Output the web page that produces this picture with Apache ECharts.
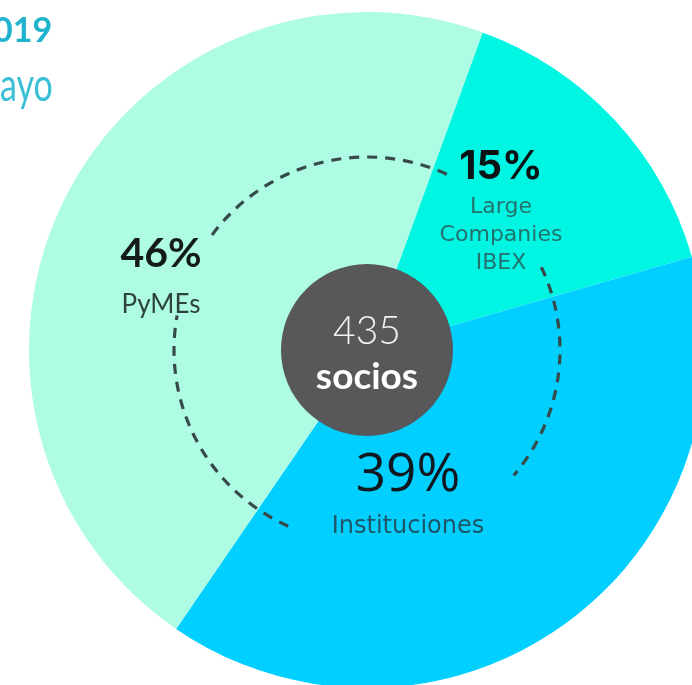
<!DOCTYPE html>
<html><head><meta charset="utf-8">
<script src="https://cdn.jsdelivr.net/npm/echarts@6/dist/echarts.min.js"></script>
<style>html,body{margin:0;padding:0;background:#fff;overflow:hidden}#c{width:692px;height:685px}</style>
</head><body><div id="c"></div>
<script>
// ---- data ----
const categories = ['Large\nCompanies\nIBEX', 'Instituciones', 'PyMEs'];
const values = [15, 39, 46];
const centerValue = [435];
const centerName = ['socios'];
const headerTexts = ['019', 'ayo'];

// ---- styles ----
const sliceColors = ['#00f6e3', '#00cfff', '#aefce3'];
const CX = 367, CY = 350, R = 338;
const labelPos = [[501, 209], [408, 500], [161, 280]];
const richStyles = [
  { p: { fontFamily: 'Inter', fontWeight: 700, fontSize: 40, color: '#0b1414', lineHeight: 52 },
    n: { fontFamily: 'DejaVu Sans', fontSize: 22, color: '#24716e', lineHeight: 28 } },
  { p: { fontFamily: 'Open Sans', fontSize: 53, color: '#101820', lineHeight: 54 },
    n: { fontFamily: 'DejaVu Sans', fontSize: 24, color: '#1f5566', lineHeight: 48 } },
  { p: { fontFamily: 'Lato', fontWeight: 'bold', fontSize: 41, color: '#141c1a', lineHeight: 50 },
    n: { fontFamily: 'Lato', fontSize: 26, color: '#2f423c', lineHeight: 52 } }
];
const deg = d => (d - 90) * Math.PI / 180; // clockwise-from-north -> zrender
const dashArcs = [[306.6, 384.6], [64.6, 130.5], [204.1, 280.3]];

const chart = echarts.init(document.getElementById('c'), null, { renderer: 'canvas' });
chart.setOption({
  animation: false,
  series: [
    {
      type: 'pie',
      center: [CX, CY],
      radius: [0, R],
      startAngle: 70,
      clockwise: true,
      silent: true,
      emphasis: { disabled: true },
      labelLine: { show: false },
      data: categories.map((name, i) => ({
        name, value: values[i],
        itemStyle: { color: sliceColors[i] },
        label: { rich: richStyles[i] }
      })),
      label: {
        show: true,
        position: 'inside',
        align: 'center',
        textBorderWidth: 0,
        formatter: p => `{p|${p.value}%}\n{n|${p.name}}`
      },
      labelLayout: params => ({
        x: labelPos[params.dataIndex][0],
        y: labelPos[params.dataIndex][1],
        align: 'center',
        verticalAlign: 'middle'
      })
    },
    {
      type: 'pie',
      center: [CX, CY],
      radius: [0, 86],
      silent: true,
      emphasis: { disabled: true },
      labelLine: { show: false },
      data: centerValue.map((v, i) => ({ value: v, name: centerName[i], itemStyle: { color: '#58575a' } })),
      label: {
        show: true,
        position: 'center',
        padding: [10, 0, 0, 0],
        formatter: p => `{v|${p.value}}\n{s|${p.name}}`,
        rich: {
          v: { fontFamily: 'Lato', fontWeight: 300, fontSize: 39, color: '#f2f2f2', lineHeight: 44 },
          s: { fontFamily: 'Lato', fontWeight: 'bold', fontSize: 37, color: '#ffffff', lineHeight: 48 }
        }
      }
    }
  ],
  graphic: [
    ...dashArcs.map(a => ({
      type: 'arc', z: 100, silent: true,
      shape: { cx: CX, cy: CY, r: 193, startAngle: deg(a[0]), endAngle: deg(a[1]), clockwise: true },
      style: { stroke: '#374a4a', lineWidth: 3.2, lineDash: [10, 8], fill: null }
    })),
    { type: 'text', x: -7, y: 31, z: 100, silent: true,
      style: { text: headerTexts[0], font: 'bold 34px Lato', fill: '#1fb3cd', align: 'left', verticalAlign: 'middle' } },
    { type: 'text', x: 0, y: 86, z: 100, silent: true, scaleY: 1.35,
      style: { text: headerTexts[1], font: '34px Lato', fill: '#3bbfd6', align: 'left', verticalAlign: 'middle' } }
  ]
});
</script>
</body></html>
